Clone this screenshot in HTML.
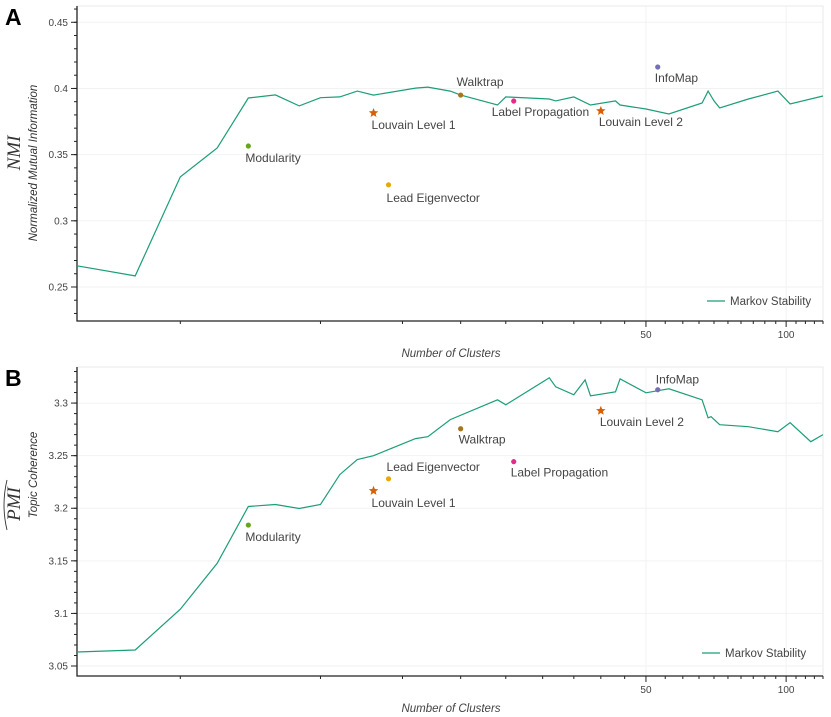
<!DOCTYPE html>
<html><head><meta charset="utf-8"><style>
body{margin:0;background:#fff;}
svg{display:block;font-family:"Liberation Sans",sans-serif;}
</style></head><body>
<svg id="chart" width="831" height="717"></svg>
<script>
// Panel A data
const xA = [3,4,5,6,7,8,9,10,11,12,13,16,17,19,20,24,25,31,32,35,38,43,44,50,56,66,68,70,72,83,96,102,120];
const nmiA = [0.266,0.2584,0.3332,0.355,0.3928,0.3951,0.3868,0.393,0.3936,0.398,0.395,0.4003,0.401,0.398,0.395,0.3875,0.3936,0.392,0.3906,0.3936,0.3875,0.3906,0.3875,0.3845,0.3807,0.389,0.398,0.3906,0.3853,0.392,0.398,0.3883,0.3943];
// Panel B data
const xB = [3,4,5,6,7,8,9,10,11,12,13,14,16,17,19,24,25,31,32,35,37,38,43,44,50,56,66,68,69,72,83,96,102,113,120];
const pmiB = [3.0633,3.0652,3.104,3.1477,3.2017,3.2036,3.1998,3.2036,3.232,3.2463,3.25,3.2558,3.2662,3.268,3.2843,3.3031,3.2984,3.324,3.3155,3.3079,3.322,3.3069,3.3107,3.323,3.3098,3.3136,3.3031,3.286,3.287,3.2794,3.2775,3.2728,3.2813,3.2633,3.27];
// Methods
const methods = ["Modularity","Louvain Level 1","Lead Eigenvector","Walktrap","Label Propagation","Louvain Level 2","InfoMap"];
const methodClusters = [7,13,14,20,26,40,53];
const methodNMI = [0.3565,0.3815,0.3272,0.395,0.3905,0.383,0.4162];
const methodPMI = [3.184,3.2166,3.228,3.2756,3.2443,3.2927,3.3127];
const methodColors = ["#66a61e","#d95f02","#e6ab02","#a6761d","#e7298a","#d95f02","#7570b3"];
const methodStar = [false,true,false,false,false,true,false];
const yTicksA = [0.25,0.3,0.35,0.4,0.45];
const yTickLabelsA = ["0.25","0.3","0.35","0.4","0.45"];
const yTicksB = [3.05,3.1,3.15,3.2,3.25,3.3];
const yTickLabelsB = ["3.05","3.1","3.15","3.2","3.25","3.3"];
const xLabelTicks = [50,100];

const NS = "http://www.w3.org/2000/svg";
const svg = document.getElementById("chart");
function mk(tag, attrs, parent, text){
  const e = document.createElementNS(NS, tag);
  for (const k in attrs) e.setAttribute(k, attrs[k]);
  if (text !== undefined) e.textContent = text;
  (parent||svg).appendChild(e);
  return e;
}
const L = 77, R = 823;
function xs(v){ return L + (R-L)*Math.log10(v/3)/Math.log10(40); }

function panel(cfg){
  const g = mk("g", {});
  
  
  const ys = v => cfg.top + (cfg.ymax - v)/(cfg.ymax - cfg.ymin)*(cfg.bot - cfg.top);
  // frame
  const fr = mk("rect", {x:L, y:cfg.top, width:R-L, height:cfg.bot-cfg.top, fill:"none", stroke:"#e8e8e8", "stroke-width":1}, g);
  
  
  // grid
  cfg.yt.forEach((t,i)=>{
    const y = ys(t);
    const gl = mk("line", {x1:L, x2:R, y1:y, y2:y, stroke:"#f2f2f2"}, g);
    
    
    const tk = mk("line", {x1:L-6, x2:L, y1:y, y2:y, stroke:"#222"}, g);
    
    
    const tl = mk("text", {x:L-9, y:y+3.5, "text-anchor":"end", "font-size":10, fill:"#444"}, g, cfg.ytl[i]);
    
    
  });
  for (let v = Math.ceil(cfg.ymin*100)/100; v <= cfg.ymax; v += 0.01) {
    const y = ys(v);
    const mt = mk("line", {x1:L-3, x2:L, y1:y, y2:y, stroke:"#222"}, g);
    
    
  }
  xLabelTicks.forEach(t=>{
    const x = xs(t);
    const gl = mk("line", {x1:x, x2:x, y1:cfg.top, y2:cfg.bot, stroke:"#f2f2f2"}, g);
    
    
    const tl = mk("text", {x:x, y:cfg.bot+17, "text-anchor":"middle", "font-size":10, fill:"#444"}, g, String(t));
    
    
  });
  for (let v = 5; v <= 120; v += 5) {
    const x = xs(v);
    const len = (v % 50 === 0) ? 6 : 3;
    const tk = mk("line", {x1:x, x2:x, y1:cfg.bot, y2:cfg.bot+len, stroke:"#222"}, g);
    
    
  }
  // axes spines
  const ax = mk("path", {d:`M${L},${cfg.top} V${cfg.bot} H${R}`, fill:"none", stroke:"#222", "stroke-width":1.3}, g);
  
  
  // line
  const pts = cfg.x.map((v,i)=>xs(v).toFixed(1)+","+ys(cfg.y[i]).toFixed(1)).join(" ");
  const pl = mk("polyline", {points:pts, fill:"none", stroke:"#1b9e77", "stroke-width":1.2}, g);
  
  
  // methods
  methods.forEach((m,i)=>{
    const x = xs(methodClusters[i]), y = ys(cfg.my[i]);
    let mark;
    if (methodStar[i]) {
      let d = "";
      for (let k=0;k<10;k++){ const r = k%2?2.2:5; const a = -Math.PI/2 + k*Math.PI/5; d += (k?"L":"M")+(x+r*Math.cos(a)).toFixed(2)+","+(y+r*Math.sin(a)).toFixed(2); }
      mark = mk("path", {d:d+"Z", fill:methodColors[i]}, g);
    } else {
      mark = mk("circle", {cx:x, cy:y, r:2.6, fill:methodColors[i]}, g);
    }
    
    
    const o = cfg.lab[i];
    const t = mk("text", {x:x+o[0], y:y+o[1], "font-size":12, fill:"#444"}, g, m);
    
    
  });
  // legend
  const ll = mk("line", {x1:cfg.legX, x2:cfg.legX+18, y1:cfg.legY, y2:cfg.legY, stroke:"#1b9e77", "stroke-width":1.3}, g);
  
  
  const lt = mk("text", {x:cfg.legX+23, y:cfg.legY+4, "font-size":11.5, fill:"#444"}, g, "Markov Stability");
  
  
  // x title
  const xt = mk("text", {x:451, y:cfg.bot+36, "text-anchor":"middle", "font-size":11.5, "font-style":"italic", fill:"#444"}, g, "Number of Clusters");
  
  
  // panel letter
  const pl2 = mk("text", {x:5, y:cfg.top+19, "font-size":23, "font-weight":"bold", fill:"#000"}, g, cfg.letter);
  
  
  return g;
}

const gA = panel({name:"panel-a-nmi", top:6, bot:321, ymin:0.2243, ymax:0.4623, x:xA, y:nmiA, my:methodNMI,
  yt:yTicksA, ytl:yTickLabelsA, legX:707, legY:301, letter:"A",
  lab:[[-3,16],[-2,16],[-2,17],[-4,-9],[-22,15],[-2,15],[-3,15]]});
const gB = panel({name:"panel-b-pmi", top:367, bot:676, ymin:3.0405, ymax:3.3343, x:xB, y:pmiB, my:methodPMI,
  yt:yTicksB, ytl:yTickLabelsB, legX:702, legY:653, letter:"B",
  lab:[[-3,16],[-2,16],[-2,-8],[-2,15],[-3,15],[-1,15],[-2,-6]]});

// y-axis titles
function vtext(x,y,txt,size,style,family,name){
  const t = mk("text", {x:0,y:0,transform:`translate(${x},${y}) rotate(-90)`, "text-anchor":"middle", "font-size":size, "font-style":style, "font-family":family, fill:"#333"}, svg, txt);
  
  
}
vtext(20,153,"NMI",19,"italic","'Liberation Serif',serif","y-axis-symbol-nmi");
vtext(37,163,"Normalized Mutual Information",11.5,"italic","'Liberation Sans',sans-serif","y-axis-title-a");
vtext(20,504,"PMI",19,"italic","'Liberation Serif',serif","y-axis-symbol-pmi");
const hat = mk("path", {d:"M7,530 Q1,505 7,480", fill:"none", stroke:"#333", "stroke-width":0.9});


vtext(37,475,"Topic Coherence",11.5,"italic","'Liberation Sans',sans-serif","y-axis-title-b");
</script>
</body></html>
